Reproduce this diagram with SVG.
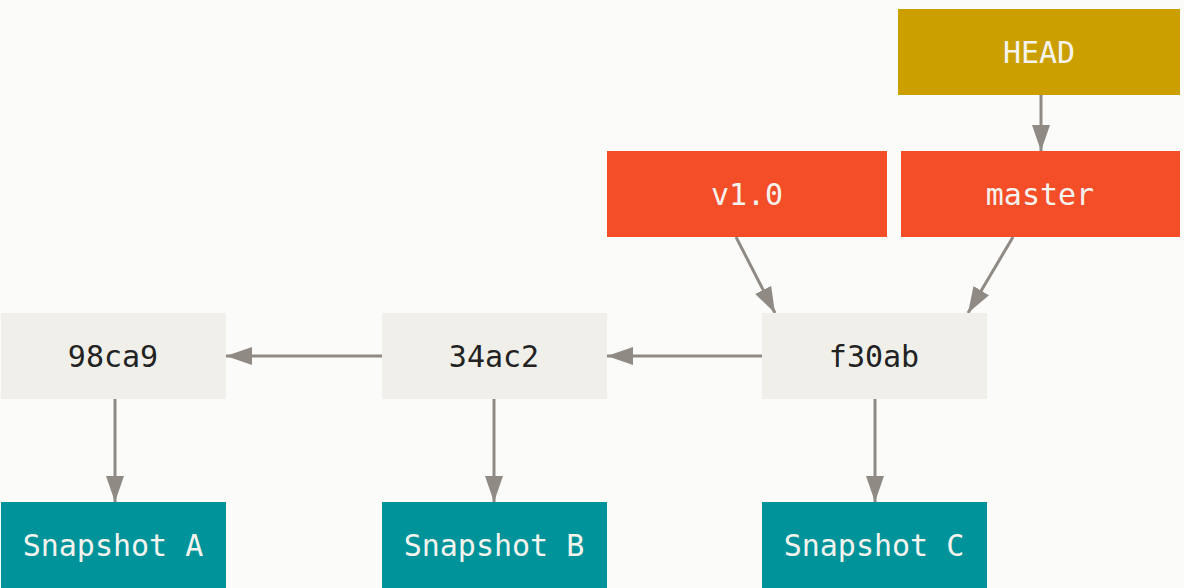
<svg xmlns="http://www.w3.org/2000/svg" width="1184" height="588" viewBox="0 0 1184 588">
  <style>
    text { font-family: "DejaVu Sans Mono", "Liberation Mono", monospace; font-size: 30px; text-anchor: middle; dominant-baseline: central; }
    .head rect { fill: #cc9f00; }
    .ref rect { fill: #f44e29; }
    .commit rect { fill: #f0efe9; }
    .snap rect { fill: #00939a; }
    .light { fill: #f5f3ee; }
    .dark { fill: #222222; }
    .edge { stroke: #8f8a84; stroke-width: 3; fill: none; marker-end: url(#arrow); }
  </style>
  <defs>
    <marker id="arrow" viewBox="0 0 26 18" refX="26" refY="9" markerWidth="26" markerHeight="18" markerUnits="userSpaceOnUse" orient="auto">
      <path d="M0,0 L26,9 L0,18 Z" fill="#8f8a84"/>
    </marker>
  </defs>
  <rect width="1184" height="588" fill="#fbfbf9"/>

  <g id="connectors">
    <line class="edge" x1="1041" y1="95" x2="1041" y2="151"/>
    <line class="edge" x1="1013" y1="237" x2="968" y2="313"/>
    <line class="edge" x1="736" y1="237" x2="775" y2="313"/>
    <line class="edge" x1="762" y1="356" x2="607" y2="356"/>
    <line class="edge" x1="382" y1="356" x2="226" y2="356"/>
    <line class="edge" x1="115" y1="399" x2="115" y2="502"/>
    <line class="edge" x1="494" y1="399" x2="494" y2="502"/>
    <line class="edge" x1="875" y1="399" x2="875" y2="502"/>
  </g>

  <g id="head" class="head">
    <rect x="898" y="9" width="282" height="86"/>
    <text class="light" x="1039" y="52">HEAD</text>
  </g>
  <g id="v1-0" class="ref">
    <rect x="607" y="151" width="280" height="86"/>
    <text class="light" x="747" y="194">v1.0</text>
  </g>
  <g id="master" class="ref">
    <rect x="901" y="151" width="279" height="86"/>
    <text class="light" x="1040" y="194">master</text>
  </g>

  <g id="c98ca9" class="commit">
    <rect x="1" y="313" width="225" height="86"/>
    <text class="dark" x="113" y="356">98ca9</text>
  </g>
  <g id="c34ac2" class="commit">
    <rect x="382" y="313" width="225" height="86"/>
    <text class="dark" x="494" y="356">34ac2</text>
  </g>
  <g id="cf30ab" class="commit">
    <rect x="762" y="313" width="225" height="86"/>
    <text class="dark" x="874" y="356">f30ab</text>
  </g>

  <g id="snapshot-a" class="snap">
    <rect x="1" y="502" width="225" height="86"/>
    <text class="light" x="113" y="545">Snapshot A</text>
  </g>
  <g id="snapshot-b" class="snap">
    <rect x="382" y="502" width="225" height="86"/>
    <text class="light" x="494" y="545">Snapshot B</text>
  </g>
  <g id="snapshot-c" class="snap">
    <rect x="762" y="502" width="225" height="86"/>
    <text class="light" x="874" y="545">Snapshot C</text>
  </g>
</svg>
